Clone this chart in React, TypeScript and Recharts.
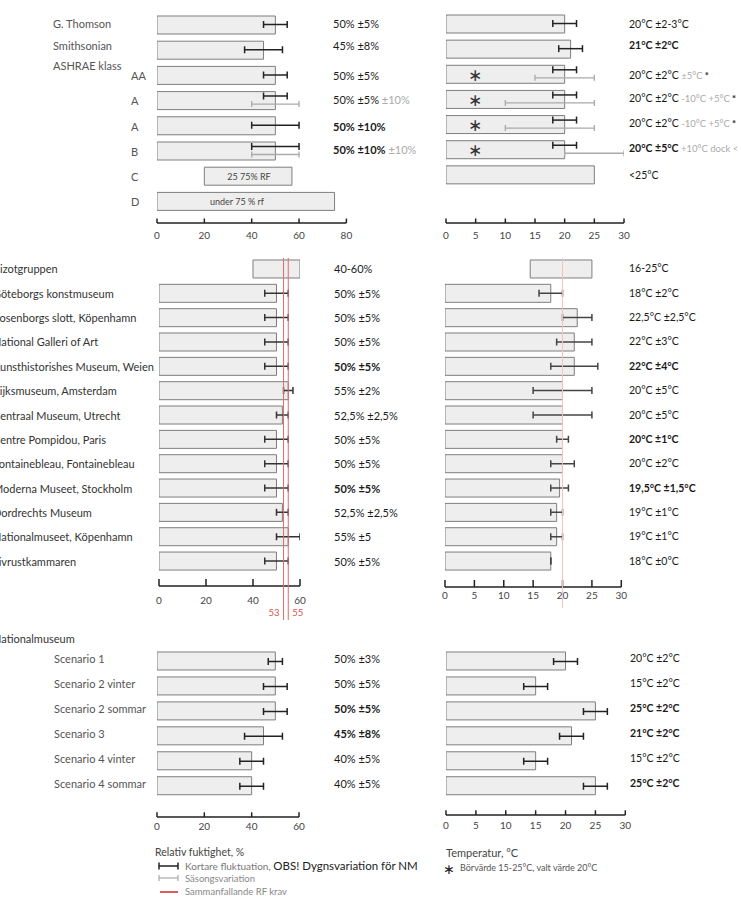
import React from "react";
import { BarChart, Bar, XAxis, YAxis, ReferenceLine } from "recharts";

const FONT = "Lato, 'Noto Sans', sans-serif";

type Range = [number, number] | null;

// ===================== Top: standards =====================
const topRhCategories = ["G. Thomson", "Smithsonian", "AA", "A", "A", "B", "C", "D"];
const topRhGroupLabel = "ASHRAE klass";
const topRhBars: Range[] = [[0, 50], [0, 45], [0, 50], [0, 50], [0, 50], [0, 50], [20, 57], [0, 75]];
const topRhShort: Range[] = [[45, 55], [37, 53], [45, 55], [45, 55], [40, 60], [40, 60], null, null];
const topRhSeason: Range[] = [null, null, null, [40, 60], null, [40, 60], null, null];
const topRhText = ["50% ±5%", "45% ±8%", "50% ±5%", "50% ±5%", "50% ±10%", "50% ±10%"];
const topRhSeasonText = ["", "", "", "±10%", "", "±10%"];
const topRhInner = ["", "", "", "", "", "", "25 75% RF", "under 75 % rf"];
const rhTicks80 = [0, 20, 40, 60, 80];

const topTempCategories = ["G. Thomson", "Smithsonian", "AA", "A", "A", "B", "C"];
const topTempBars: Range[] = [[0, 20], [0, 21], [0, 20], [0, 20], [0, 20], [0, 20], [0, 25]];
const topTempShort: Range[] = [[18, 22], [19, 23], [18, 22], [18, 22], [18, 22], [18, 22], null];
const topTempSeason: Range[] = [null, null, [15, 25], [10, 25], [10, 25], [20, 30], null];
const topTempText = ["20°C ±2-3°C", "21°C ±2°C", "20°C ±2°C", "20°C ±2°C", "20°C ±2°C", "20°C ±5°C", "<25°C"];
const topTempSeasonText = ["", "", "±5°C", "-10°C +5°C", "-10°C +5°C", "+10°C dock <", ""];
const topTempNote = ["", "", "*", "*", "*", "", ""];
const topTempSetpoint = [false, false, true, true, true, true, false];
const tempTicks = [0, 5, 10, 15, 20, 25, 30];

// ===================== Middle: museums =====================
const midCategories = [
  "Bizotgruppen",
  "Göteborgs konstmuseum",
  "Rosenborgs slott, Köpenhamn",
  "National Galleri of Art",
  "Kunsthistorishes Museum, Weien",
  "Rijksmuseum, Amsterdam",
  "Centraal Museum, Utrecht",
  "Centre Pompidou, Paris",
  "Fontainebleau, Fontainebleau",
  "Moderna Museet, Stockholm",
  "Dordrechts Museum",
  "Nationalmuseet, Köpenhamn",
  "Livrustkammaren",
];
const midRhBars: Range[] = [[40, 60], [0, 50], [0, 50], [0, 50], [0, 50], [0, 55], [0, 52.5], [0, 50], [0, 50], [0, 50], [0, 52.5], [0, 55], [0, 50]];
const midRhShort: Range[] = [null, [45, 55], [45, 55], [45, 55], [45, 55], [53, 57], [50, 55], [45, 55], [45, 55], [45, 55], [50, 55], [50, 60], [45, 55]];
const midRhText = ["40-60%", "50% ±5%", "50% ±5%", "50% ±5%", "50% ±5%", "55% ±2%", "52,5% ±2,5%", "50% ±5%", "50% ±5%", "50% ±5%", "52,5% ±2,5%", "55% ±5", "50% ±5%"];
const midRhRefValues = [53, 55];
const rhTicks60 = [0, 20, 40, 60];

const midTempBars: Range[] = [[14.5, 25], [0, 18], [0, 22.5], [0, 22], [0, 22], [0, 20], [0, 20], [0, 20], [0, 20], [0, 19.5], [0, 19], [0, 19], [0, 18]];
const midTempShort: Range[] = [null, [16, 20], [20, 25], [19, 25], [18, 26], [15, 25], [15, 25], [19, 21], [18, 22], [18, 21], [18, 20], [18, 20], [18, 18]];
const midTempText = ["16-25°C", "18°C ±2°C", "22,5°C ±2,5°C", "22°C ±3°C", "22°C ±4°C", "20°C ±5°C", "20°C ±5°C", "20°C ±1°C", "20°C ±2°C", "19,5°C ±1,5°C", "19°C ±1°C", "19°C ±1°C", "18°C ±0°C"];
const midTempRefValues = [20];

// ===================== Bottom: Nationalmuseum scenarios =====================
const botTitle = "Nationalmuseum";
const botCategories = ["Scenario 1", "Scenario 2 vinter", "Scenario 2 sommar", "Scenario 3", "Scenario 4 vinter", "Scenario 4 sommar"];
const botRhBars: Range[] = [[0, 50], [0, 50], [0, 50], [0, 45], [0, 40], [0, 40]];
const botRhShort: Range[] = [[47, 53], [45, 55], [45, 55], [37, 53], [35, 45], [35, 45]];
const botRhText = ["50% ±3%", "50% ±5%", "50% ±5%", "45% ±8%", "40% ±5%", "40% ±5%"];
const botTempBars: Range[] = [[0, 20], [0, 15], [0, 25], [0, 21], [0, 15], [0, 25]];
const botTempShort: Range[] = [[18, 22], [13, 17], [23, 27], [19, 23], [13, 17], [23, 27]];
const botTempText = ["20°C ±2°C", "15°C ±2°C", "25°C ±2°C", "21°C ±2°C", "15°C ±2°C", "25°C ±2°C"];

// ===================== Legend =====================
const legendRhTitle = "Relativ fuktighet, %";
const legendShortA = "Kortare fluktuation, ";
const legendShortB = "OBS! Dygnsvariation för NM";
const legendSeason = "Säsongsvariation";
const legendRef = "Sammanfallande RF krav";
const legendTempTitle = "Temperatur, °C";
const legendStar = "Börvärde 15-25°C, valt värde 20°C";

// ---------------------------------------------------------
const rows = (cats: string[], bars: Range[], short: Range[], season?: Range[]) =>
  cats.map((c, i) => ({ id: `${i}:${c}`, bar: bars[i], short: short[i], season: season ? season[i] : null }));

const topRhData = rows(topRhCategories, topRhBars, topRhShort, topRhSeason);
const topTempData = rows(topTempCategories, topTempBars, topTempShort, topTempSeason);
const midRhData = rows(midCategories, midRhBars, midRhShort);
const midTempData = rows(midCategories, midTempBars, midTempShort);
const botRhData = rows(botCategories, botRhBars, botRhShort);
const botTempData = rows(botCategories, botTempBars, botTempShort);

const PAD = { top: 6, right: 12, bottom: 6, left: 12 };

type Geo = { x0: number; x1: number; top: number; bottom: number; axisY: number; domain: [number, number] };

const G: Record<string, Geo> = {
  topL: { x0: 157.3, x1: 346.7, top: 12.2, bottom: 213.8, axisY: 222.7, domain: [0, 80] },
  topR: { x0: 446, x1: 624, top: 11.1, bottom: 187.1, axisY: 222.7, domain: [0, 30] },
  midL: { x0: 158.7, x1: 299.7, top: 256.8, bottom: 573.2, axisY: 585.7, domain: [0, 60] },
  midR: { x0: 444.7, x1: 621, top: 256.8, bottom: 573.2, axisY: 587, domain: [0, 30] },
  botL: { x0: 156.7, x1: 298.7, top: 648.5, bottom: 798.2, axisY: 817, domain: [0, 60] },
  botR: { x0: 445.7, x1: 625, top: 648.5, bottom: 798.2, axisY: 815, domain: [0, 30] },
};

const rowY = (g: Geo, n: number, i: number) => g.top + ((i + 0.5) * (g.bottom - g.top)) / n;

function ErrShape(props: any) {
  const { x, y, width, height, payload, color, sw, cap, kind } = props;
  if (!payload || !payload[kind] || x == null || y == null || width == null) return <g />;
  let cy = y + height / 2;
  if (kind === "short" && payload.season) cy -= 4;
  if (kind === "season") cy += 4;
  const xl = Math.min(x, x + width);
  const xr = Math.max(x, x + width);
  return (
    <g stroke={color} strokeWidth={sw} fill="none">
      <line x1={xl} x2={xr} y1={cy} y2={cy} />
      <line x1={xl} x2={xl} y1={cy - cap / 2} y2={cy + cap / 2} />
      <line x1={xr} x2={xr} y1={cy - cap / 2} y2={cy + cap / 2} />
    </g>
  );
}

function Frame({ g, top, bottom, data, axis, yLine, children }: any) {
  const axisH = axis ? 30 : 0;
  const mb = axis ? 0 : PAD.bottom;
  const width = g.x1 - g.x0 + PAD.left + PAD.right;
  const height = bottom - top + PAD.top + mb + axisH;
  return (
    <div style={{ position: "absolute", left: g.x0 - PAD.left, top: top - PAD.top }}>
      <BarChart
        layout="vertical"
        width={width}
        height={height}
        data={data}
        margin={{ top: PAD.top, right: PAD.right, bottom: mb, left: PAD.left }}
      >
        {axis ? (
          <XAxis
            type="number"
            domain={g.domain}
            allowDataOverflow
            ticks={axis.ticks}
            interval={0}
            height={axisH}
            tickSize={-axis.tickLen}
            tickMargin={axis.margin}
            axisLine={{ stroke: "#222", strokeWidth: 1.5 }}
            tickLine={{ stroke: "#222", strokeWidth: 1.5 }}
            tick={{ fill: "#444", fontSize: 10, fontFamily: FONT }}
          />
        ) : (
          <XAxis type="number" domain={g.domain} hide allowDataOverflow />
        )}
        {yLine ? (
          <YAxis
            type="category"
            dataKey="id"
            width={0}
            tick={false}
            tickLine={false}
            axisLine={{ stroke: "#333", strokeWidth: 1.5 }}
          />
        ) : (
          <YAxis type="category" dataKey="id" hide />
        )}
        {children}
      </BarChart>
    </div>
  );
}

function Panel({ g, data, ticks, tickLen, tickMargin, errColor, refs, refColor, refLabels, refBottom }: any) {
  const hasSeason = data.some((d: any) => d.season);
  return (
    <>
      <Frame g={g} top={g.top} bottom={g.bottom} data={data} yLine>
        <Bar dataKey="bar" barSize={18} fill="#eeeeee" stroke="#7d7d7d" strokeWidth={1} isAnimationActive={false} />
      </Frame>
      {hasSeason && (
        <Frame g={g} top={g.top} bottom={g.bottom} data={data}>
          <Bar
            dataKey="season"
            isAnimationActive={false}
            shape={(p: any) => <ErrShape {...p} kind="season" color="#aaaaaa" sw={1.3} cap={6} />}
          />
        </Frame>
      )}
      <Frame g={g} top={g.top} bottom={g.bottom} data={data}>
        <Bar
          dataKey="short"
          isAnimationActive={false}
          shape={(p: any) => <ErrShape {...p} kind="short" color={errColor} sw={1.5} cap={7} />}
        />
      </Frame>
      <Frame g={g} top={g.axisY - 10} bottom={g.axisY} data={data} axis={{ ticks, tickLen, margin: tickMargin }} />
      {refs && (
        <Frame g={g} top={258} bottom={refBottom} data={data}>
          {refs.map((v: number, k: number) => (
            <ReferenceLine
              key={v}
              x={v}
              stroke={refColor}
              strokeWidth={1}
              label={
                refLabels
                  ? {
                      value: String(v),
                      position: k === 0 ? "insideBottomRight" : "insideBottomLeft",
                      offset: 4,
                      fill: "#d9534f",
                      fontSize: 9.5,
                      fontFamily: FONT,
                    }
                  : undefined
              }
            />
          ))}
        </Frame>
      )}
    </>
  );
}

function Txt({ x, y, children, size = 11, color = "#222", weight = 400, anchor = "start" }: any) {
  const tx = anchor === "middle" ? "-50%" : anchor === "end" ? "-100%" : "0";
  return (
    <div
      style={{
        position: "absolute",
        left: x,
        top: y,
        transform: `translate(${tx}, -50%)`,
        fontSize: size,
        color,
        fontWeight: weight,
        lineHeight: 1,
        whiteSpace: "nowrap",
        fontFamily: FONT,
      }}
    >
      {children}
    </div>
  );
}

const topRhBold = new Set([4, 5]);
const topTempBold = new Set([1, 5]);
const midRhBold = new Set([4, 9]);
const midTempBold = new Set([4, 7, 9]);
const botRhBold = new Set([2, 3]);
const botTempBold = new Set([2, 3, 5]);
const topLeftDy = [-1.5, -5, 0, -1, 0, -1.5, 0, -1];
const topRightDy = [0, -4, 1, -1, -1, -1, 0];
const TEMP_SIZE = 10.5;

export default function App() {
  return (
    <div
      style={{
        position: "absolute",
        left: 0,
        top: 0,
        width: 741,
        height: 900,
        overflow: "hidden",
        background: "#fff",
        fontFamily: FONT,
      }}
    >
      {/* ---------- charts ---------- */}
      <Panel g={G.topL} data={topRhData} ticks={rhTicks80} tickLen={4.5} tickMargin={13} errColor="#222" />
      <Panel g={G.topR} data={topTempData} ticks={tempTicks} tickLen={4.5} tickMargin={13} errColor="#222" />
      <Panel
        g={G.midL}
        data={midRhData}
        ticks={rhTicks60}
        tickLen={7}
        tickMargin={18}
        errColor="#333"
        refs={midRhRefValues}
        refColor="#e06a6a"
        refLabels
        refBottom={620}
      />
      <Panel
        g={G.midR}
        data={midTempData}
        ticks={tempTicks}
        tickLen={7}
        tickMargin={12}
        errColor="#444"
        refs={midTempRefValues}
        refColor="#f2c4c4"
        refBottom={608}
      />
      <Panel g={G.botL} data={botRhData} ticks={rhTicks60} tickLen={4.7} tickMargin={11} errColor="#222" />
      <Panel g={G.botR} data={botTempData} ticks={tempTicks} tickLen={4.7} tickMargin={12} errColor="#222" />

      {/* ---------- top labels ---------- */}
      <Txt x={53} y={rowY(G.topL, 8, 0) + topLeftDy[0]} color="#555">{topRhCategories[0]}</Txt>
      <Txt x={53} y={rowY(G.topL, 8, 1) + topLeftDy[1]} color="#555">{topRhCategories[1]}</Txt>
      <Txt x={53} y={65.3} color="#555">{topRhGroupLabel}</Txt>
      {topRhCategories.slice(2).map((c, k) => (
        <Txt key={"tc" + k} x={131} y={rowY(G.topL, 8, k + 2)} color="#555">{c}</Txt>
      ))}
      {topRhText.map((t, i) => (
        <Txt key={"tv" + i} x={333} y={rowY(G.topL, 8, i) + topLeftDy[i]} weight={topRhBold.has(i) ? 700 : 400} color="#1a1a1a">
          {t}
          {topRhSeasonText[i] ? <span style={{ color: "#aaa", fontWeight: 400 }}> {topRhSeasonText[i]}</span> : null}
        </Txt>
      ))}
      {topRhInner.map((t, i) =>
        t ? (
          <Txt key={"ti" + i} x={i === 6 ? 249 : 237} y={rowY(G.topL, 8, i)} size={9} color="#444" anchor="middle">{t}</Txt>
        ) : null
      )}
      {topTempText.map((t, i) => (
        <Txt key={"tt" + i} x={629} y={rowY(G.topR, 7, i) + topRightDy[i]} size={TEMP_SIZE} weight={topTempBold.has(i) ? 700 : 400} color="#1a1a1a">
          {t}
          {topTempSeasonText[i] ? <span style={{ color: "#aaa", fontWeight: 400, fontSize: 9.5 }}> {topTempSeasonText[i]}</span> : null}
          {topTempNote[i] ? <span style={{ fontWeight: 700, fontSize: 9.5 }}> {topTempNote[i]}</span> : null}
        </Txt>
      ))}
      {topTempSetpoint.map((s, i) =>
        s ? (
          <Txt key={"ts" + i} x={475} y={rowY(G.topR, 7, i) + 1} size={17} color="#333" anchor="middle">
            <span style={{ fontFamily: "'DejaVu Sans'" }}>∗</span>
          </Txt>
        ) : null
      )}

      {/* ---------- middle labels ---------- */}
      {midCategories.map((c, i) => (
        <Txt key={"mc" + i} x={-7} y={rowY(G.midL, 13, i) - 0.5} color="#333">{c}</Txt>
      ))}
      {midRhText.map((t, i) => (
        <Txt key={"mr" + i} x={334} y={rowY(G.midL, 13, i) - 0.5} weight={midRhBold.has(i) ? 700 : 400} color="#1a1a1a">{t}</Txt>
      ))}
      {midTempText.map((t, i) => (
        <Txt key={"mt" + i} x={629} y={rowY(G.midR, 13, i) - 0.5} size={TEMP_SIZE} weight={midTempBold.has(i) ? 700 : 400} color="#1a1a1a">{t}</Txt>
      ))}

      {/* ---------- bottom labels ---------- */}
      <Txt x={-7} y={638} color="#333">{botTitle}</Txt>
      {botCategories.map((c, i) => (
        <Txt key={"bc" + i} x={54} y={rowY(G.botL, 6, i) - 2.5} color="#555">{c}</Txt>
      ))}
      {botRhText.map((t, i) => (
        <Txt key={"br" + i} x={334} y={rowY(G.botL, 6, i) - 2.5} weight={botRhBold.has(i) ? 700 : 400} color="#1a1a1a">{t}</Txt>
      ))}
      {botTempText.map((t, i) => (
        <Txt key={"bt" + i} x={630} y={rowY(G.botR, 6, i) - 2.5} size={TEMP_SIZE} weight={botTempBold.has(i) ? 700 : 400} color="#1a1a1a">{t}</Txt>
      ))}

      {/* ---------- legend ---------- */}
      <Txt x={155} y={852} size={10.5} color="#444">{legendRhTitle}</Txt>
      <svg style={{ position: "absolute", left: 150, top: 858 }} width={40} height={40}>
        <g stroke="#222" strokeWidth={1.5}>
          <line x1={9} x2={28} y1={8} y2={8} />
          <line x1={9} x2={9} y1={4.5} y2={11.5} />
          <line x1={28} x2={28} y1={4.5} y2={11.5} />
        </g>
        <g stroke="#aaa" strokeWidth={1.2}>
          <line x1={9} x2={28} y1={20} y2={20} />
          <line x1={9} x2={9} y1={17} y2={23} />
          <line x1={28} x2={28} y1={17} y2={23} />
        </g>
        <line x1={10} x2={28} y1={34} y2={34} stroke="#e04848" strokeWidth={1.8} />
      </svg>
      <Txt x={185} y={866} size={10} color="#777">
        {legendShortA}
        <span style={{ fontSize: 11.5, color: "#222" }}>{legendShortB}</span>
      </Txt>
      <Txt x={185} y={878.5} size={9.5} color="#888">{legendSeason}</Txt>
      <Txt x={185} y={892} size={9.5} color="#888">{legendRef}</Txt>
      <Txt x={446} y={852} size={11} color="#444">{legendTempTitle}</Txt>
      <Txt x={449} y={869} size={14} color="#222" anchor="middle">
        <span style={{ fontFamily: "'DejaVu Sans'" }}>∗</span>
      </Txt>
      <Txt x={460} y={867} size={9} color="#555">{legendStar}</Txt>
    </div>
  );
}
